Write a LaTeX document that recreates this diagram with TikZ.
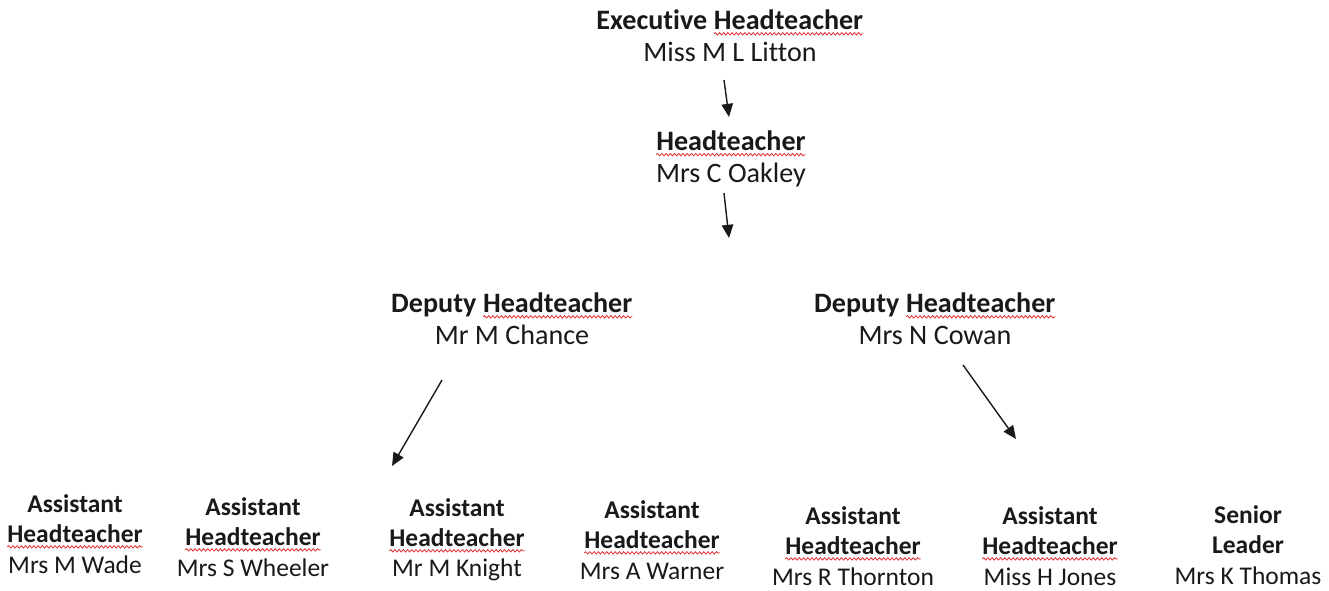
\documentclass[tikz,border=0pt]{standalone}
\usepackage{fontspec}
\setmainfont{Carlito}[Ligatures=NoCommon]
\usetikzlibrary{arrows.meta,decorations.pathmorphing}
\definecolor{spellred}{RGB}{225,45,45}
\newcommand{\hdt}[1]{\tikz[baseline=(w.base)]{\node[inner sep=0pt,outer sep=0pt] (w) {#1};
  \draw[spellred,line width=0.45pt,decorate,decoration={snake,amplitude=0.7pt,segment length=2.4pt}] ([yshift=-2.3pt]w.base west)--([yshift=-2.3pt]w.base east);}}
\tikzset{
  person/.style={align=center,inner sep=0pt,text=black!90,font=\fontsize{16}{18.2}\selectfont},
  lower/.style={person,font=\fontsize{14.5}{17.2}\selectfont},
  arr/.style={-{Triangle[length=7.5pt,width=6.5pt]},line width=0.8pt,black!90}
}

\begin{document}
\begin{tikzpicture}[x=0.02cm,y=-0.02cm]
		\useasboundingbox (0,0) rectangle (1329,591);
		\node[person] (exec) at (730,36) {\textbf{Executive \hdt{Headteacher}}\\Miss M L Litton};
		\node[person] (head) at (731,159) {\textbf{\hdt{Headteacher}}\\Mrs C Oakley};
		\node[person] (depL) at (512,319) {\textbf{Deputy \hdt{Headteacher}}\\Mr M Chance};
		\node[person] (depR) at (935,319) {\textbf{Deputy \hdt{Headteacher}}\\Mrs N Cowan};
		\node[lower] (wade) at (75,534) {\textbf{Assistant}\\\textbf{\hdt{Headteacher}}\\Mrs M Wade};
		\node[lower] (wheeler) at (253,537) {\textbf{Assistant}\\\textbf{\hdt{Headteacher}}\\Mrs S Wheeler};
		\node[lower] (knight) at (457,540) {\textbf{Assistant}\\\textbf{\hdt{Headteacher}}\\Mr M Knight};
		\node[lower] (warner) at (652,540) {\textbf{Assistant}\\\textbf{\hdt{Headteacher}}\\Mrs A Warner};
		\node[lower] (thornton) at (853,546) {\textbf{Assistant}\\\textbf{\hdt{Headteacher}}\\Mrs R Thornton};
		\node[lower] (jones) at (1050,546) {\textbf{Assistant}\\\textbf{\hdt{Headteacher}}\\Miss H Jones};
		\node[lower] (thomas) at (1248,545) {\textbf{Senior}\\\textbf{Leader}\\Mrs K Thomas};
		% arrow ends
		\coordinate (a1) at (724,80);
		\coordinate (b1) at (729,117);
		\coordinate (a2) at (724,193);
		\coordinate (b2) at (729,238);
		\coordinate (a3) at (442,380);
		\coordinate (b3) at (392,466);
		\coordinate (a4) at (963,365);
		\coordinate (b4) at (1016,439);
		\draw[arr] (a1)--(b1);
		\draw[arr] (a2)--(b2);
		\draw[arr] (a3)--(b3);
		\draw[arr] (a4)--(b4);
	\end{tikzpicture}
\end{document}
